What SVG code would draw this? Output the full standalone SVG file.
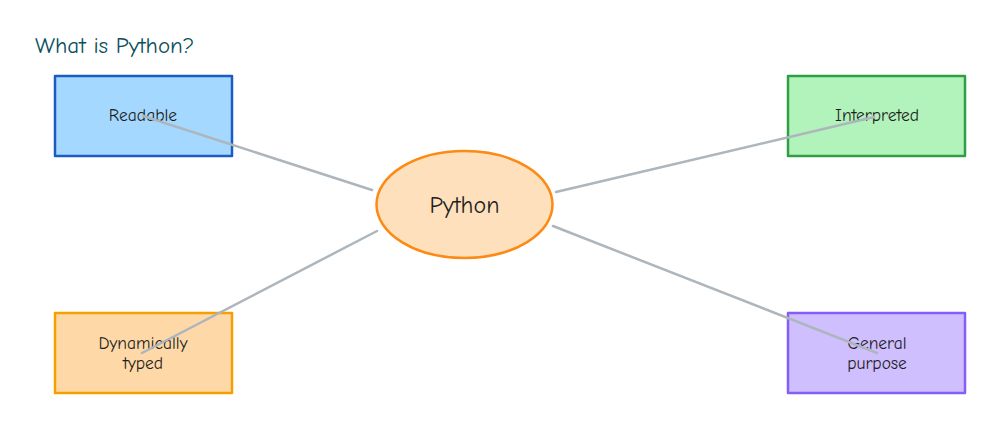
<svg xmlns="http://www.w3.org/2000/svg" width="1000" height="428" viewBox="0 0 1000 428">
<style>
text{font-family:"Comic Neue","Noto Sans","Liberation Sans",sans-serif;fill:#1e1e1e;text-anchor:middle}
.lbl{font-size:17.5px}
.box{stroke-width:2.5;stroke-linejoin:round}
.conn{stroke:#adb5bd;stroke-width:2.5;fill:none;stroke-linecap:round}
</style>
<rect width="1000" height="428" fill="#ffffff"/>
<g id="title"><text x="35" y="53" style="font-size:23px;fill:#0b4f5c;text-anchor:start">What is Python?</text></g>
<g id="readable">
<rect class="box" x="55" y="76" width="177" height="80" fill="#a5d8ff" stroke="#1c5bc0"/>
<text class="lbl" x="143" y="121">Readable</text>
</g>
<g id="interpreted">
<rect class="box" x="788" y="76" width="177" height="80" fill="#b2f2bb" stroke="#2f9e44"/>
<text class="lbl" x="877" y="121">Interpreted</text>
</g>
<g id="dynamically-typed">
<rect class="box" x="55" y="313" width="177" height="80" fill="#ffd8a8" stroke="#f59f00"/>
<text class="lbl" x="143" y="349">Dynamically</text>
<text class="lbl" x="143" y="369">typed</text>
</g>
<g id="general-purpose">
<rect class="box" x="788" y="313" width="177" height="80" fill="#d0bfff" stroke="#845ef7"/>
<text class="lbl" x="877" y="349">General</text>
<text class="lbl" x="877" y="369">purpose</text>
</g>
<g id="python">
<ellipse cx="464.5" cy="204.5" rx="88" ry="53.5" fill="#ffe0bd" stroke="#fd8a14" stroke-width="2.5"/>
<text x="464.5" y="213" style="font-size:24px">Python</text>
</g>
<g id="connectors">
<line class="conn" x1="372" y1="190" x2="143" y2="116"/>
<line class="conn" x1="556" y1="192" x2="874" y2="117"/>
<line class="conn" x1="377" y1="231" x2="142" y2="353"/>
<line class="conn" x1="553" y1="226" x2="877" y2="353"/>
</g>
</svg>
